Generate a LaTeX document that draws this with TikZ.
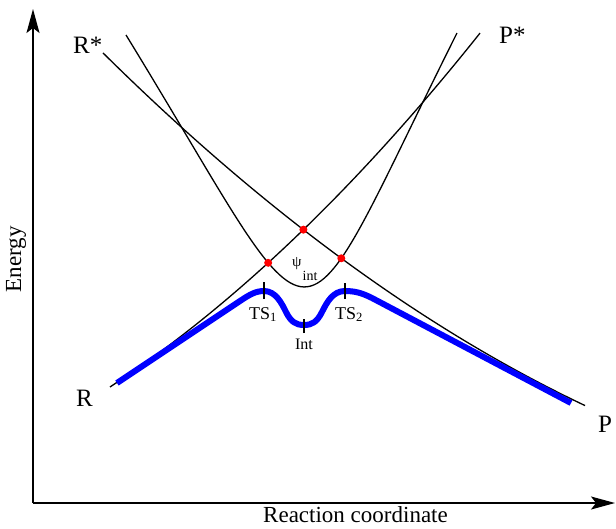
\documentclass[tikz,border=0pt]{standalone}
\usepackage{fontspec}
\setmainfont{Liberation Serif}
\usetikzlibrary{arrows.meta,intersections}
\begin{document}
\begin{tikzpicture}[x=1pt,y=-1pt,
  axis/.style={line width=1.6pt,-{Stealth[length=24pt,width=13pt,inset=5pt]}},
  curve/.style={line width=1.3pt},
  mep/.style={line width=6pt, blue, line cap=butt, line join=round},
  tickmark/.style={line width=1.3pt},
  dot/.style={circle, fill=red, inner sep=0pt, minimum size=8pt},
  lab/.style={inner sep=0pt, font=\fontsize{25}{25}\selectfont},
  axlab/.style={inner sep=0pt, font=\fontsize{23}{23}\selectfont},
  small/.style={inner sep=0pt, font=\fontsize{18}{18}\selectfont},
]
\useasboundingbox (0,0) rectangle (616,528);
% axes
\coordinate (O) at (33,503);
\coordinate (ytip) at (33,9);
\coordinate (xtip) at (615,503);
\draw[axis] (O) -- (ytip);
\draw[axis] (O) -- (xtip);
% diabatic curves
\draw[curve, name path=rps] plot[domain=110:480, samples=90] (\x, {449.5 - 0.4793*\x - 0.000809*\x*\x});
\draw[curve, name path=rsp] plot[domain=103:585, samples=90] (\x, {-54.6 + 1.099*\x - 0.000527*\x*\x});
% intermediate curve
\coordinate (psiL) at (126,35);
\coordinate (psiR) at (457,33);
\draw[curve, name path=psi] (psiL) .. controls (330,367.5) and (286,375) .. (psiR);
% crossings
\path[name intersections={of=rps and psi, sort by=rps, name=L}];
\path[name intersections={of=rsp and psi, sort by=rsp, name=S}];
\path[name intersections={of=rps and rsp, name=C}];
% minimum energy path
\coordinate (m0) at (117,383);
\coordinate (m1) at (240,301);
\coordinate (ts1) at (264,291);
\coordinate (int) at (304,325);
\coordinate (ts2) at (345,291);
\coordinate (m2) at (372,298);
\coordinate (m3) at (571,403);
\draw[mep] (m0) -- (m1) .. controls (250,294.3) and (256,291) .. (ts1)
  .. controls (276,291) and (282,304) .. (286,312)
  .. controls (291,322) and (296,325) .. (int)
  .. controls (312,325) and (317,322) .. (322,312)
  .. controls (327,302) and (333,291) .. (ts2)
  .. controls (355,291) and (362,293) .. (m2) -- (m3);
% ticks
\draw[tickmark] ([yshift=-8]ts1) -- ([yshift=9]ts1);
\draw[tickmark] ([yshift=-8]int) -- ([yshift=6]int);
\draw[tickmark] ([yshift=-8]ts2) -- ([yshift=8]ts2);
% dots
\node[dot] (d1) at (L-1) {};
\node[dot] (d2) at (C-1) {};
\node[dot] (d3) at (S-2) {};
% labels
\node[lab, anchor=base west] (lRs) at (73,53) {R*};
\node[lab, anchor=base west] (lPs) at (499,43) {P*};
\node[lab, anchor=base west] (lR) at (76,406) {R};
\node[lab, anchor=base west] (lP) at (598,432) {P};
\node[axlab, rotate=90, anchor=base] (lE) at (21,259.5) {Energy};
\node[axlab, anchor=base] (lX) at (355.5,522) {Reaction coordinate};
\node[small, anchor=base] (lts1) at (263,319) {TS\textsubscript{1}};
\node[small, anchor=base] (lts2) at (349,319) {TS\textsubscript{2}};
\node[inner sep=0pt, font=\fontsize{16}{16}\selectfont, anchor=base] (lint) at (304,349) {Int};
\node[inner sep=0pt, font=\fontsize{15}{15}\selectfont, anchor=base west] (lpsi) at (292,266) {ψ};
\node[inner sep=0pt, font=\fontsize{14}{14}\selectfont, anchor=base west] (lpsiint) at (302.5,280) {int};
\end{tikzpicture}
\end{document}
